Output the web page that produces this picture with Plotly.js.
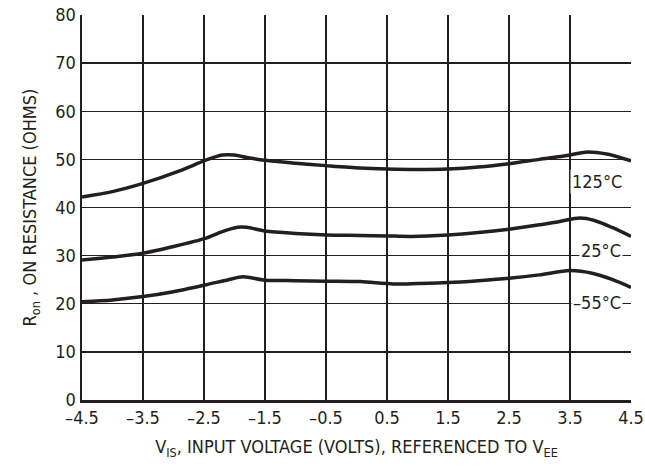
<!DOCTYPE html>
<html><head><meta charset="utf-8">
<script src="https://cdn.plot.ly/plotly-3.0.1.min.js"></script>
<style>html,body{margin:0;padding:0;background:#fff}#c{width:645px;height:471px}</style>
</head><body><div id="c"></div>
<script>
const vis = [-4.5, -4.0, -3.5, -2.9, -2.48, -2.2, -2.0, -1.8, -1.5, -1.0, -0.5, 0.06, 0.5, 1.0, 1.5, 2.0, 2.5, 3.0, 3.5, 3.75, 4.1, 4.5];
const r125 = [42.2, 43.3, 45.0, 47.6, 49.8, 50.9, 50.9, 50.4, 49.8, 49.2, 48.7, 48.2, 48.0, 47.9, 48.0, 48.4, 49.1, 50.0, 50.9, 51.5, 51.1, 49.7];
const vis25 = [-4.5, -4.0, -3.5, -3.0, -2.48, -2.2, -1.95, -1.8, -1.5, -1.0, -0.5, 0.06, 0.5, 0.9, 1.5, 2.0, 2.5, 3.0, 3.33, 3.66, 3.9, 4.2, 4.5];
const r25 = [29.1, 29.7, 30.5, 31.9, 33.6, 35.0, 35.9, 35.9, 35.1, 34.6, 34.3, 34.2, 34.1, 34.0, 34.3, 34.8, 35.5, 36.4, 37.1, 37.8, 37.3, 35.8, 34.0];
const vis55 = [-4.5, -4.0, -3.5, -3.0, -2.48, -2.1, -1.86, -1.5, -1.0, -0.5, 0.06, 0.6, 1.0, 1.5, 2.0, 2.5, 3.0, 3.5, 3.88, 4.2, 4.5];
const r55 = [20.4, 20.8, 21.5, 22.5, 23.9, 25.0, 25.6, 24.9, 24.8, 24.7, 24.6, 24.1, 24.2, 24.4, 24.8, 25.3, 26.0, 26.9, 26.3, 25.0, 23.4];
const xTicks = [-4.5, -3.5, -2.5, -1.5, -0.5, 0.5, 1.5, 2.5, 3.5, 4.5];
const yTicks = [0, 10, 20, 30, 40, 50, 60, 70, 80];
const labels = [{t: "125°C", x: 3.95, y: 45.5}, {t: "25°C", x: 4.0, y: 31.0}, {t: "–55°C", x: 3.95, y: 20.3}];

const font = "'Liberation Sans Narrow', 'DejaVu Sans Condensed', Arial, sans-serif";
const lineStyle = {color: '#231f20', width: 3.5, shape: 'spline', smoothing: 0.8};
const traces = [
  {x: vis, y: r125, mode: 'lines', line: lineStyle, hoverinfo: 'skip'},
  {x: vis25, y: r25, mode: 'lines', line: lineStyle, hoverinfo: 'skip'},
  {x: vis55, y: r55, mode: 'lines', line: lineStyle, hoverinfo: 'skip'}
];
const layout = {
  width: 645, height: 471,
  margin: {l: 82, r: 14, t: 15, b: 71},
  showlegend: false,
  paper_bgcolor: '#fff', plot_bgcolor: '#fff',
  font: {family: font, size: 18, color: '#231f20'},
  xaxis: {
    range: [-4.5, 4.5], tickvals: xTicks, ticktext: xTicks.map(v => (v < 0 ? '–' : '') + Math.abs(v).toFixed(1)),
    showgrid: true, gridcolor: '#231f20', gridwidth: 1.3, zeroline: false,
    showline: true, linecolor: '#231f20', linewidth: 2.5, ticks: '', ticklen: 0,
    tickfont: {family: font, size: 18, color: '#231f20'},
    title: {text: 'V<sub>IS</sub>, INPUT VOLTAGE (VOLTS), REFERENCED TO V<sub>EE</sub>', font: {family: font, size: 18, color: '#231f20'}, standoff: 14}
  },
  yaxis: {
    range: [0, 80], tickvals: yTicks,
    showgrid: true, gridcolor: '#231f20', gridwidth: 1.3, zeroline: false,
    showline: true, linecolor: '#231f20', linewidth: 2.5, ticks: '', ticklen: 0,
    tickfont: {family: font, size: 18, color: '#231f20'},
    title: {text: 'R<sub>on</sub> , ON RESISTANCE (OHMS)', font: {family: font, size: 18, color: '#231f20'}, standoff: 14}
  },
  annotations: labels.map(l => ({x: l.x, y: l.y, xref: 'x', yref: 'y', text: l.t, showarrow: false, bgcolor: '#fff', font: {family: font, size: 18, color: '#231f20'}, borderpad: 1}))
};
Plotly.newPlot('c', traces, layout, {displayModeBar: false, staticPlot: true});
</script></body></html>
